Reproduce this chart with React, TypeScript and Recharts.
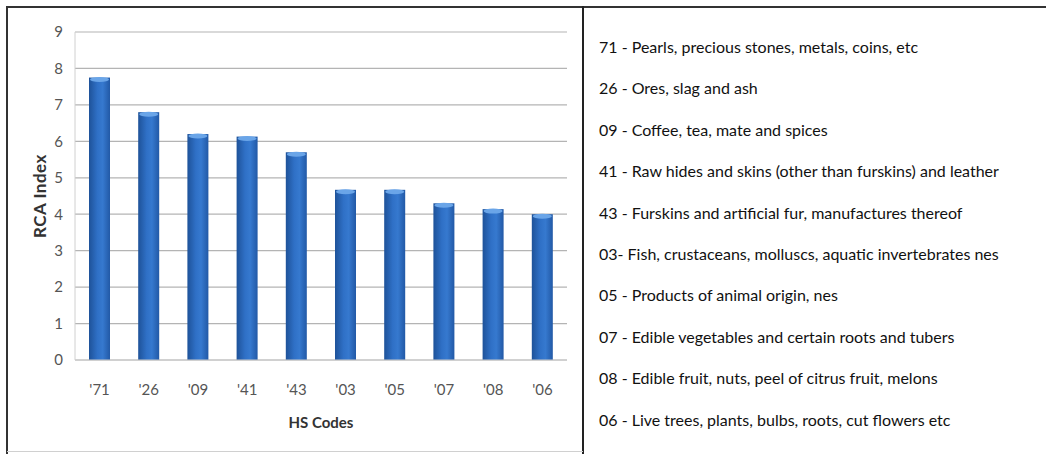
import React from 'react';
import { BarChart, Bar, XAxis, YAxis, CartesianGrid, Label } from 'recharts';

const codes = ["'71", "'26", "'09", "'41", "'43", "'03", "'05", "'07", "'08", "'06"];
const rcaValues = [7.75, 6.8, 6.2, 6.13, 5.7, 4.67, 4.67, 4.3, 4.14, 4.0];
const yTicks = [0, 1, 2, 3, 4, 5, 6, 7, 8, 9];
const descriptions = [
  '71 - Pearls, precious stones, metals, coins, etc',
  '26 - Ores, slag and ash',
  '09 - Coffee, tea, mate and spices',
  '41 - Raw hides and skins (other than furskins) and leather',
  '43 - Furskins and artificial fur, manufactures thereof',
  '03- Fish, crustaceans, molluscs, aquatic invertebrates nes',
  '05 - Products of animal origin, nes',
  '07 - Edible vegetables and certain roots and tubers',
  '08 - Edible fruit, nuts, peel of citrus fruit, melons',
  '06 - Live trees, plants, bulbs, roots, cut flowers etc',
];

const data = codes.map((code, i) => ({ code, rca: rcaValues[i] }));

const FONT = 'Lato, "Open Sans", sans-serif';

// cylinder-ish bar like the Excel 2007 style
const BarShape = (props: any) => {
  const { x, y, width, height } = props;
  if (!height || height <= 0) return null;
  const w = Number(width);
  return (
    <g>
      <defs>
        <linearGradient id="barGrad" x1="0" y1="0" x2="1" y2="0">
          <stop offset="0%" stopColor="#1e5299" />
          <stop offset="40%" stopColor="#2f70c6" />
          <stop offset="65%" stopColor="#3679cf" />
          <stop offset="100%" stopColor="#2259a6" />
        </linearGradient>
      </defs>
      <rect x={x} y={y} width={w} height={height} fill="url(#barGrad)" />
      <ellipse cx={x + w / 2} cy={y + 2} rx={w / 2 - 1} ry={2.5} fill="#6aa5e8" />
    </g>
  );
};

const App: React.FC = () => {
  return (
    <div style={{ position: 'absolute', left: 0, top: 0, width: 1046, height: 454, background: '#fff', fontFamily: FONT }}>
      {/* frame */}
      <div style={{ position: 'absolute', left: 7, top: 6, width: 1039, height: 2, background: '#333' }} />
      <div style={{ position: 'absolute', left: 6, top: 6, width: 2, height: 448, background: '#333' }} />
      <div style={{ position: 'absolute', left: 582, top: 6, width: 2, height: 448, background: '#222' }} />
      <div style={{ position: 'absolute', left: 7, top: 451, width: 576, height: 1, background: '#d0d0d0' }} />

      <div style={{ position: 'absolute', left: 0, top: 0 }}>
        <BarChart
          width={583}
          height={454}
          data={data}
          margin={{ top: 32, right: 16, left: 30, bottom: 24 }}
          barSize={21}
        >
          <CartesianGrid vertical={false} stroke="#b4b4b4" strokeWidth={1.2} />
          <XAxis
            dataKey="code"
            height={70}
            axisLine={{ stroke: '#c8c8c8' }}
            tickLine={false}
            tickMargin={18}
            tick={{ fontSize: 15, fill: '#555', fontFamily: FONT }}
          >
            <Label
              value="HS Codes"
              position="insideBottom"
              offset={2}
              style={{ fontSize: 15, fontWeight: 'bold', fill: '#333', fontFamily: FONT }}
            />
          </XAxis>
          <YAxis
            width={45}
            domain={[0, 9]}
            ticks={yTicks}
            interval={0}
            axisLine={{ stroke: '#d0d0d0' }}
            tickLine={false}
            tickMargin={6}
            tick={{ fontSize: 15, fill: '#555', fontFamily: FONT }}
          >
            <Label
              value="RCA Index"
              angle={-90}
              position="insideLeft"
              offset={10}
              style={{ fontSize: 17, fontWeight: 'bold', fill: '#333', fontFamily: FONT, textAnchor: 'middle', letterSpacing: 0.5 }}
            />
          </YAxis>
          <Bar dataKey="rca" shape={(p: any) => <BarShape {...p} />} isAnimationActive={false} />
        </BarChart>
      </div>

      <div style={{ position: 'absolute', left: 599, top: 26, fontSize: 16, color: '#111', fontFamily: FONT }}>
        {descriptions.map((d) => (
          <div key={d} style={{ height: 41.4, lineHeight: '41.4px', whiteSpace: 'nowrap' }}>
            {d}
          </div>
        ))}
      </div>
    </div>
  );
};

export default App;
